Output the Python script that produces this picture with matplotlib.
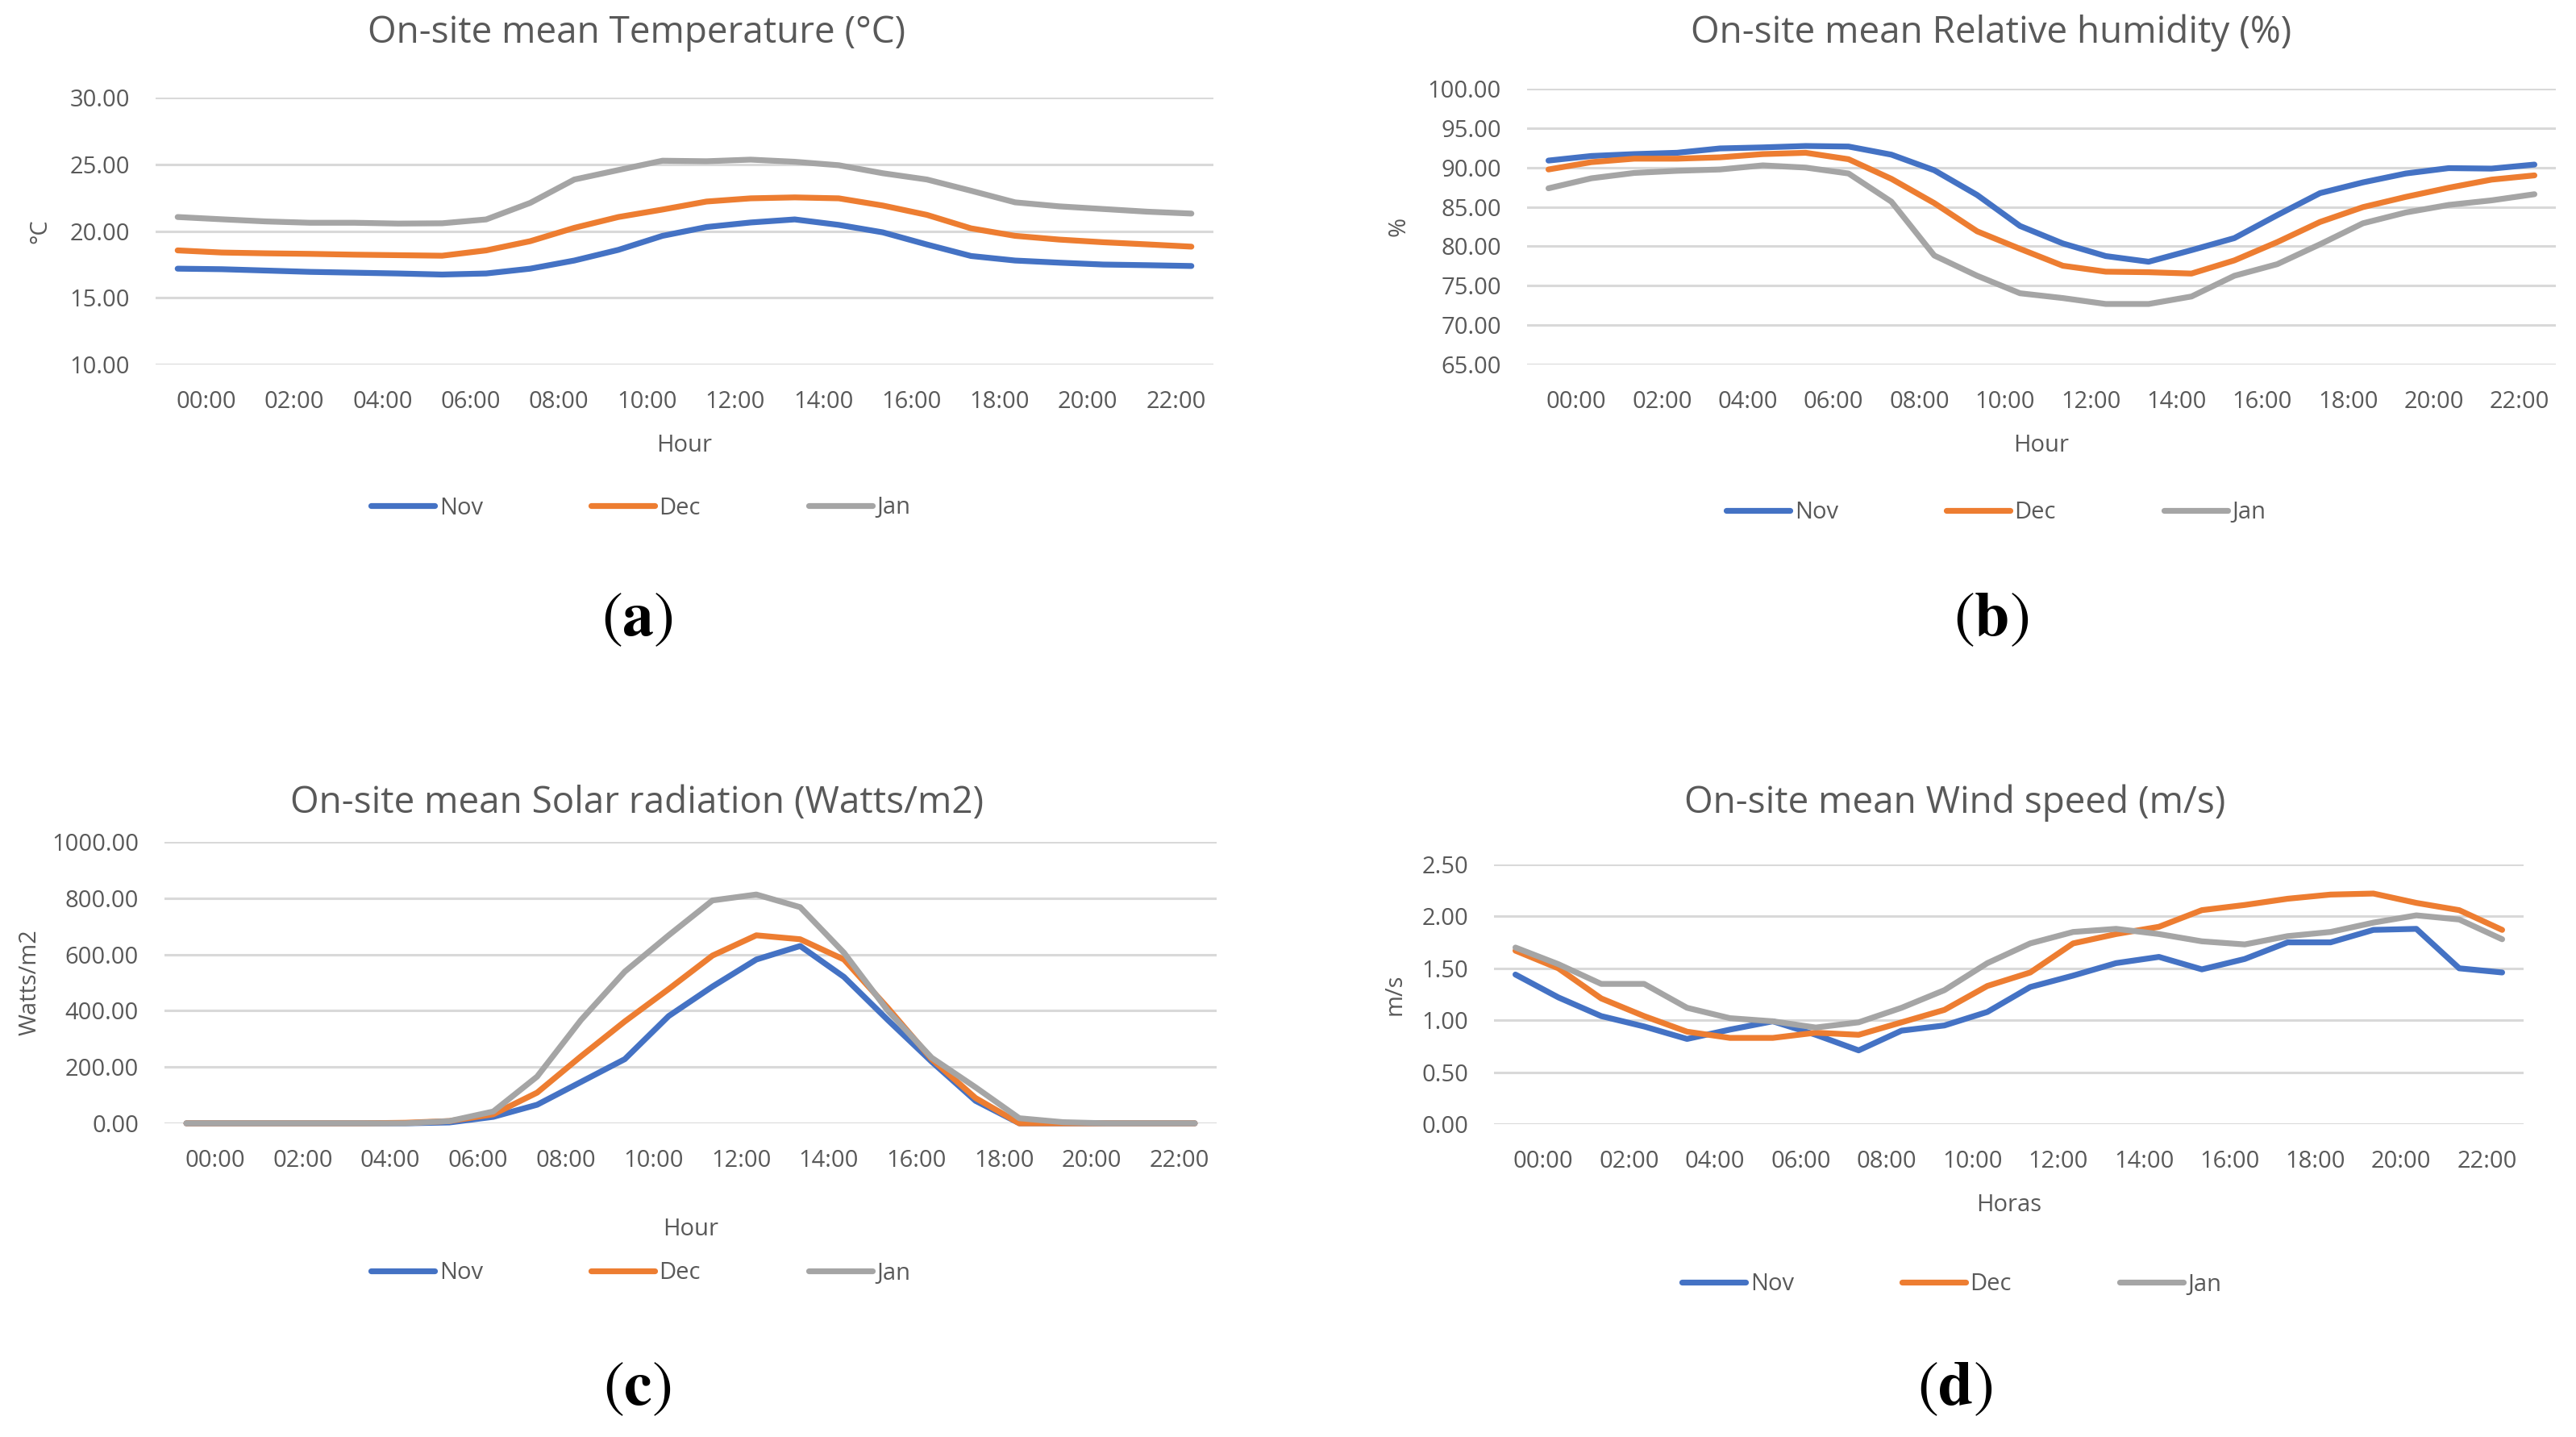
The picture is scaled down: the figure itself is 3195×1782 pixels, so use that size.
import matplotlib
matplotlib.use("Agg")
import matplotlib.pyplot as plt

W, H = 3195, 1782

hours = list(range(24))
tick_labels = ["%02d:00" % h for h in range(0, 24, 2)]

temp_nov = [17.18, 17.14, 17.04, 16.94, 16.88, 16.82, 16.74, 16.82, 17.18, 17.79, 18.59, 19.64,
            20.30, 20.64, 20.87, 20.46, 19.90, 18.99, 18.13, 17.79, 17.63, 17.49, 17.44, 17.38]
temp_dec = [18.55, 18.39, 18.33, 18.29, 18.23, 18.19, 18.15, 18.55, 19.24, 20.24, 21.05, 21.61,
            22.21, 22.45, 22.52, 22.45, 21.91, 21.21, 20.20, 19.64, 19.36, 19.16, 19.00, 18.83]
temp_jan = [21.05, 20.88, 20.72, 20.62, 20.62, 20.56, 20.58, 20.87, 22.11, 23.86, 24.57, 25.27,
            25.23, 25.35, 25.19, 24.93, 24.33, 23.86, 23.02, 22.15, 21.85, 21.65, 21.45, 21.31]

hum_nov = [90.88, 91.46, 91.70, 91.87, 92.42, 92.55, 92.73, 92.66, 91.63, 89.65, 86.51, 82.58,
           80.36, 78.76, 78.04, 79.51, 81.04, 83.95, 86.75, 88.11, 89.24, 89.92, 89.86, 90.37]
hum_dec = [89.75, 90.68, 91.12, 91.12, 91.29, 91.70, 91.87, 91.05, 88.56, 85.48, 81.90, 79.68,
           77.53, 76.78, 76.71, 76.54, 78.21, 80.53, 83.09, 84.97, 86.27, 87.43, 88.46, 89.00]
hum_jan = [87.36, 88.63, 89.31, 89.58, 89.75, 90.27, 89.99, 89.24, 85.66, 78.83, 76.26, 74.04,
           73.43, 72.68, 72.68, 73.63, 76.26, 77.73, 80.26, 82.92, 84.29, 85.25, 85.83, 86.61]

rad_nov = [0, 0, 0, 0, 0, 0, 3, 23, 66, 147, 228, 381, 486, 582, 630, 520, 367, 219, 80, 0, 0, 0, 0, 0]
rad_dec = [0, 0, 0, 0, 0, 2, 8, 32, 109, 238, 362, 477, 596, 668, 654, 582, 410, 228, 90, 0, 0, 0, 0, 0]
rad_jan = [0, 0, 0, 0, 0, 0, 8, 42, 166, 367, 539, 668, 792, 813, 768, 606, 400, 233, 128, 18, 4, 0, 0, 0]

wind_nov = [1.44, 1.22, 1.04, 0.94, 0.82, 0.91, 0.99, 0.86, 0.71, 0.90, 0.95, 1.08,
            1.32, 1.43, 1.55, 1.61, 1.49, 1.59, 1.75, 1.75, 1.87, 1.88, 1.50, 1.46]
wind_dec = [1.67, 1.50, 1.21, 1.04, 0.89, 0.83, 0.83, 0.88, 0.86, 0.98, 1.10, 1.33,
            1.46, 1.74, 1.83, 1.90, 2.06, 2.11, 2.17, 2.21, 2.22, 2.13, 2.06, 1.87]
wind_jan = [1.70, 1.54, 1.35, 1.35, 1.12, 1.02, 0.99, 0.93, 0.98, 1.12, 1.29, 1.55,
            1.74, 1.85, 1.88, 1.83, 1.76, 1.73, 1.81, 1.85, 1.94, 2.01, 1.97, 1.78]

months = ["Nov", "Dec", "Jan"]
colors = ["#4472C4", "#ED7D31", "#A5A5A5"]
TXT = "#595959"

plt.rcParams["font.family"] = ["Open Sans", "DejaVu Sans"]
plt.rcParams["mathtext.fontset"] = "stix"

fig = plt.figure(figsize=(W / 100, H / 100), dpi=100, facecolor="white")


def fx(px):
    return px / W


def fy(py):
    return 1 - py / H


panels = [
    # data, title, ylabel, xlabel, ylim, step, box(l, t, r, b), title y, ylab x, xlab y, legend (x, y), letter
    ([temp_nov, temp_dec, temp_jan], "On-site mean Temperature (°C)", "°C", "Hour",
     (10, 30), 5, (193, 121, 1505, 452), 41, 50, 553, (795, 630), "a"),
    ([hum_nov, hum_dec, hum_jan], "On-site mean Relative humidity (%)", "%", "Hour",
     (65, 100), 5, (1894, 110, 3170, 452), 41, 1735, 553, (2476, 636), "b"),
    ([rad_nov, rad_dec, rad_jan], "On-site mean Solar radiation (Watts/m2)", "Watts/m2", "Hour",
     (0, 1000), 200, (204, 1044, 1509, 1393), 996, 37, 1524, (795, 1579), "c"),
    ([wind_nov, wind_dec, wind_jan], "On-site mean Wind speed (m/s)", "m/s", "Horas",
     (0, 2.5), 0.5, (1853, 1072, 3130, 1394), 996, 1730, 1494, (2421, 1593), "d"),
]

for series, title, ylab, xlab, ylim, step, box, ty, ylx, xly, leg, letter in panels:
    l, t, r, b = box
    ax = fig.add_axes([fx(l), fy(b), fx(r - l), (b - t) / H])
    for vals, name, c in zip(series, months, colors):
        ax.plot(hours, vals, color=c, lw=5.2, label=name, solid_capstyle="round",
                solid_joinstyle="round", clip_on=False)
    ax.set_xlim(-0.5, 23.5)
    ax.set_ylim(*ylim)
    yt = [ylim[0] + i * step for i in range(int(round((ylim[1] - ylim[0]) / step)) + 1)]
    ax.set_yticks(yt)
    ax.set_yticklabels(["%.2f" % v for v in yt])
    ax.set_xticks([h + 0.65 for h in range(0, 24, 2)])
    ax.set_xticklabels(tick_labels)
    ax.tick_params(length=0, labelsize=21, labelcolor=TXT, pad=23)
    ax.grid(axis="y", color="#D9D9D9", lw=2.2)
    ax.set_axisbelow(True)
    for s in ax.spines.values():
        s.set_visible(False)

    ax.set_xlabel(xlab, fontsize=21, color=TXT, va="center")
    ax.xaxis.set_label_coords(fx((l + r) / 2), fy(xly), transform=fig.transFigure)
    ax.set_ylabel(ylab, fontsize=21, color=TXT, va="center")
    ax.yaxis.set_label_coords(fx(ylx), fy((t + b) / 2), transform=fig.transFigure)

    cx = {"a": 790, "b": 2470, "c": 790, "d": 2425}[letter]
    fig.text(fx(cx), fy(ty), title, fontsize=33, color=TXT, ha="center", va="center")
    fig.text(fx(cx), fy(768 if letter in "ab" else 1722), r"$\mathrm{(}\mathbf{%s}\mathrm{)}$" % letter,
             fontsize=56, color="black", ha="center", va="center")

    ax.legend(loc="center", bbox_to_anchor=(fx(leg[0]), fy(leg[1])), bbox_transform=fig.transFigure,
              ncol=3, frameon=False, fontsize=21, labelcolor=TXT, handlelength=2.7,
              handletextpad=0.2, columnspacing=4.6)

fig.savefig("out.png", dpi=100, facecolor="white")
